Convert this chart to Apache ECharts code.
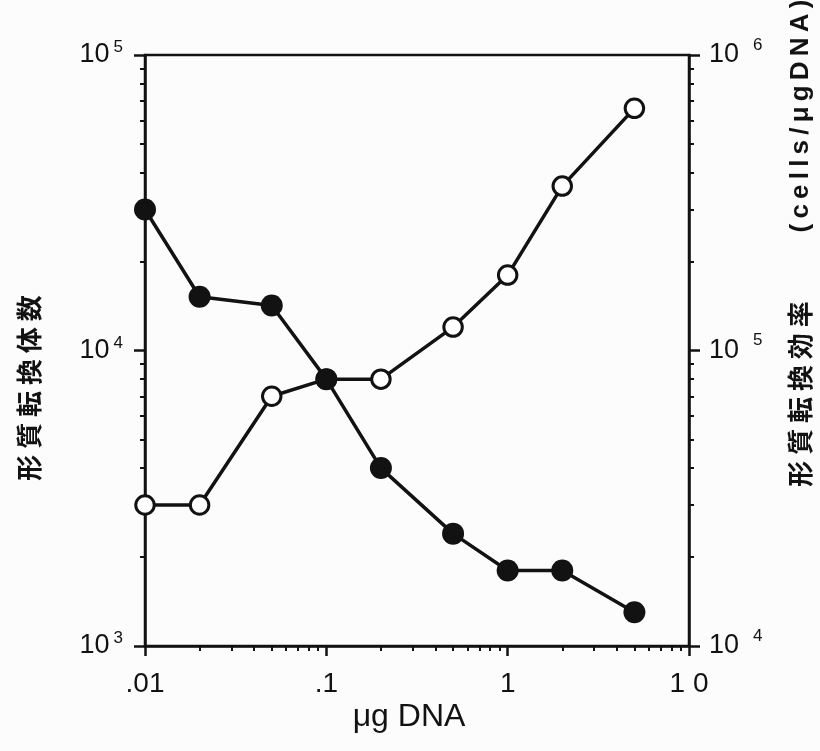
<!DOCTYPE html>
<html>
<head>
<meta charset="utf-8">
<script src="https://cdn.jsdelivr.net/npm/echarts@6/dist/echarts.min.js"></script>
<style>
  html, body { margin: 0; padding: 0; background: #fcfcfc; }
  #chart { width: 820px; height: 751px; }
</style>
</head>
<body>
<div id="chart"></div>
<script>
// DNA amount (µg) per transformation
const doses = [0.01, 0.02, 0.05, 0.1, 0.2, 0.5, 1, 2, 5];
// number of transformants (left axis, filled circles)
const transformants = [30000, 15200, 14200, 8000, 4000, 2400, 1800, 1800, 1300];
// transformation efficiency, cells/µg DNA (right axis, open circles)
const efficiency = [30000, 30000, 70000, 80000, 80000, 120000, 180000, 360000, 660000];

// axis ticks and their labels
const doseTicks = [0.01, 0.1, 1, 10];
const doseTickLabels = ['.01', '.1', '1', '1 0'];
const doseMinorTicks = [0.02, 0.03, 0.04, 0.05, 0.06, 0.07, 0.08, 0.09,
                        0.2, 0.3, 0.4, 0.5, 0.6, 0.7, 0.8, 0.9,
                        2, 3, 4, 5, 6, 7, 8, 9];
const countTicks = [1e3, 1e4, 1e5];
const countMinorTicks = [2000, 3000, 4000, 5000, 6000, 7000, 8000, 9000,
                         20000, 30000, 40000, 50000, 60000, 70000, 80000, 90000];
const efficiencyTicks = [1e4, 1e5, 1e6];
const efficiencyMinorTicks = [2e4, 3e4, 4e4, 5e4, 6e4, 7e4, 8e4, 9e4,
                              2e5, 3e5, 4e5, 5e5, 6e5, 7e5, 8e5, 9e5];

const INK = '#121212';
const LATIN = '"Liberation Sans", Arial, sans-serif';
const CJK = '"Noto Sans CJK JP", sans-serif';

const chart = echarts.init(document.getElementById('chart'), null, { renderer: 'canvas' });

const axisLine = { show: true, onZero: false, lineStyle: { color: INK, width: 2.5 } };
const noLine = { show: false, onZero: false };

function majorTicks(values, len) {
  return { show: true, inside: false, length: len, customValues: values,
           lineStyle: { color: INK, width: 2.5 } };
}
function minorTicks(values) {
  return { show: true, inside: false, length: 5, customValues: values,
           lineStyle: { color: INK, width: 2 } };
}
function powerLabel(v) {
  return '{b|10}{s|' + Math.round(Math.log10(v)) + '}';
}
function doseLabel(v) {
  const i = doseTicks.findIndex(t => Math.abs(Math.log10(t) - Math.log10(v)) < 1e-6);
  return i >= 0 ? doseTickLabels[i] : '';
}

const option = {
  animation: false,
  backgroundColor: '#fcfcfc',
  grid: {
    left: 145, right: 131, top: 55, bottom: 105,
    containLabel: false,
    outerBoundsMode: 'none',
    show: true, borderColor: INK, borderWidth: 2.5, backgroundColor: 'transparent'
  },
  xAxis: [
    {
      type: 'log', logBase: 10, min: 0.01, max: 10, position: 'bottom',
      axisLine: axisLine,
      axisTick: majorTicks(doseTicks, 10),
      axisLabel: {
        show: true, customValues: doseTicks, formatter: doseLabel, margin: 24,
        color: INK, fontSize: 28, fontFamily: LATIN
      },
      splitLine: { show: false }, minorTick: { show: false }
    },
    {
      type: 'log', logBase: 10, min: 0.01, max: 10, position: 'bottom',
      axisLine: noLine,
      axisTick: minorTicks(doseMinorTicks),
      axisLabel: { show: false },
      splitLine: { show: false }
    }
  ],
  yAxis: [
    {
      type: 'log', logBase: 10, min: 1e3, max: 1e5, position: 'left',
      axisLine: axisLine,
      axisTick: majorTicks(countTicks, 11),
      axisLabel: {
        show: true, customValues: countTicks, formatter: powerLabel, margin: 22,
        rich: {
          b: { fontSize: 27, fontFamily: LATIN, color: INK },
          s: { fontSize: 17, fontFamily: LATIN, color: INK, padding: [0, 0, 15, 4] }
        }
      },
      splitLine: { show: false }
    },
    {
      type: 'log', logBase: 10, min: 1e3, max: 1e5, position: 'left',
      axisLine: noLine,
      axisTick: minorTicks(countMinorTicks),
      axisLabel: { show: false },
      splitLine: { show: false }
    },
    {
      type: 'log', logBase: 10, min: 1e4, max: 1e6, position: 'right',
      axisLine: axisLine,
      axisTick: majorTicks(efficiencyTicks, 11),
      axisLabel: {
        show: true, customValues: efficiencyTicks, formatter: powerLabel, margin: 20,
        rich: {
          b: { fontSize: 27, fontFamily: LATIN, color: INK },
          s: { fontSize: 17, fontFamily: LATIN, color: INK, padding: [0, 0, 20, 14] }
        }
      },
      splitLine: { show: false }
    },
    {
      type: 'log', logBase: 10, min: 1e4, max: 1e6, position: 'right',
      axisLine: noLine,
      axisTick: minorTicks(efficiencyMinorTicks),
      axisLabel: { show: false },
      splitLine: { show: false }
    }
  ],
  series: [
    {
      name: '形質転換効率',
      type: 'line', xAxisIndex: 0, yAxisIndex: 2,
      data: doses.map((d, i) => [d, efficiency[i]]),
      symbol: 'circle', symbolSize: 18.5, showAllSymbol: true,
      itemStyle: { color: '#ffffff', borderColor: INK, borderWidth: 3 },
      lineStyle: { color: INK, width: 3.5 },
      emphasis: { disabled: true },
      z: 2
    },
    {
      name: '形質転換体数',
      type: 'line', xAxisIndex: 0, yAxisIndex: 0,
      data: doses.map((d, i) => [d, transformants[i]]),
      symbol: 'circle', symbolSize: 22, showAllSymbol: true,
      itemStyle: { color: INK, borderColor: INK, borderWidth: 0 },
      lineStyle: { color: INK, width: 3.5 },
      emphasis: { disabled: true },
      z: 3
    }
  ],
  graphic: [
    {
      type: 'text', x: 29, y: 388, rotation: Math.PI / 2,
      style: {
        text: '形 質 転 換 体 数', font: 'bold 26px ' + CJK, fill: INK,
        textAlign: 'center', textVerticalAlign: 'middle', align: 'center', verticalAlign: 'middle'
      }
    },
    {
      type: 'text', x: 800, y: 394, rotation: Math.PI / 2,
      style: {
        text: '形 質 転 換 効 率', font: 'bold 26px ' + CJK, fill: INK,
        textAlign: 'center', textVerticalAlign: 'middle', align: 'center', verticalAlign: 'middle'
      }
    },
    {
      type: 'text', x: 801, y: 116, rotation: Math.PI / 2,
      style: {
        text: '(\u2009c\u2009e\u2009l\u2009l\u2009s\u2009/\u2009\u03bc\u2009g\u2009D\u2009N\u2009A\u2009)',
        font: 'bold 26px ' + LATIN, fill: INK,
        textAlign: 'center', textVerticalAlign: 'middle', align: 'center', verticalAlign: 'middle'
      }
    },
    {
      type: 'text', x: 409, y: 717,
      style: {
        text: '\u03bcg DNA', font: '32px ' + LATIN, fill: INK,
        textAlign: 'center', textVerticalAlign: 'middle', align: 'center', verticalAlign: 'middle'
      }
    }
  ]
};

chart.setOption(option);
</script>
</body>
</html>
